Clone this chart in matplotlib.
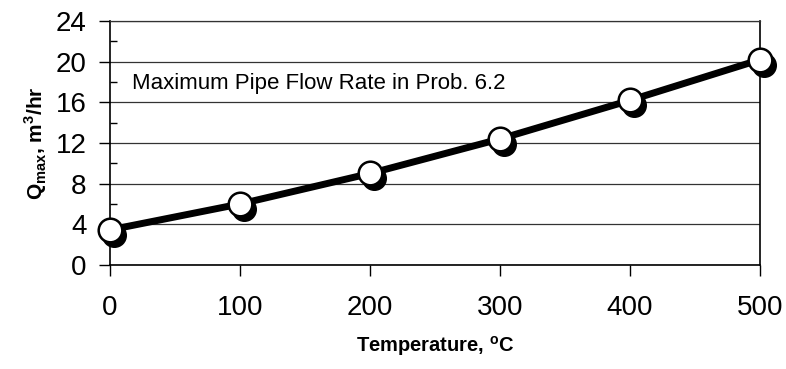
import matplotlib.pyplot as plt
import matplotlib.transforms as mtransforms

plt.rcParams['font.family'] = ['Liberation Sans', 'DejaVu Sans']
plt.rcParams['mathtext.fontset'] = 'custom'
plt.rcParams['mathtext.rm'] = 'Liberation Sans'
plt.rcParams['mathtext.bf'] = 'Liberation Sans:bold'

# --- dane ---
temperatura = [0, 100, 200, 300, 400, 500]
q_max = [3.45, 6.0, 9.0, 12.4, 16.2, 20.2]
y_ticks = [0, 4, 8, 12, 16, 20, 24]
x_ticks = [0, 100, 200, 300, 400, 500]

fig = plt.figure(figsize=(7.86, 3.69), dpi=100)
ax = fig.add_axes([0.14, 0.282, 0.827, 0.661])

# cien pod markerami
shadow = mtransforms.offset_copy(ax.transData, fig=fig, x=4, y=-5, units='dots')
ax.plot(temperatura, q_max, 'o', color='black', markersize=17, transform=shadow,
        clip_on=False, zorder=3)
ax.plot(temperatura, q_max, '-', color='black', linewidth=5, clip_on=False, zorder=4)
ax.plot(temperatura, q_max, 'o', markerfacecolor='white', markeredgecolor='black',
        markeredgewidth=1.8, markersize=17, clip_on=False, zorder=5)

ax.set_xlim(0, 500)
ax.set_ylim(0, 24)
ax.set_xticks(x_ticks)
ax.set_yticks(y_ticks)
ax.set_yticks([2, 6, 10, 14, 18, 22], minor=True)
ax.tick_params(axis='y', which='major', direction='out', length=8, width=1, pad=9, labelsize=20)
ax.tick_params(axis='y', which='minor', direction='in', length=5, width=1)
ax.tick_params(axis='x', which='major', direction='out', length=8, width=1, pad=14, labelsize=20)

ax.grid(True, axis='y', color='#333333', linewidth=0.9)
ax.set_axisbelow(True)
for s in ['left', 'bottom', 'right']:
    ax.spines[s].set_linewidth(1.2)
ax.spines['top'].set_linewidth(0.9)
ax.spines['top'].set_color('#333333')

ax.text(17, 17.9, 'Maximum Pipe Flow Rate in Prob. 6.2', fontsize=16, va='center', ha='left')

ax.set_xlabel(r'Temperature, $^{\mathbf{o}}$C', fontsize=14.5, fontweight='bold', labelpad=9)
ax.set_ylabel(r'Q$_{\mathbf{max}}$, m$^{\mathbf{3}}$/hr', fontsize=15, fontweight='bold', labelpad=5)

fig.savefig('out.png', dpi=100)
